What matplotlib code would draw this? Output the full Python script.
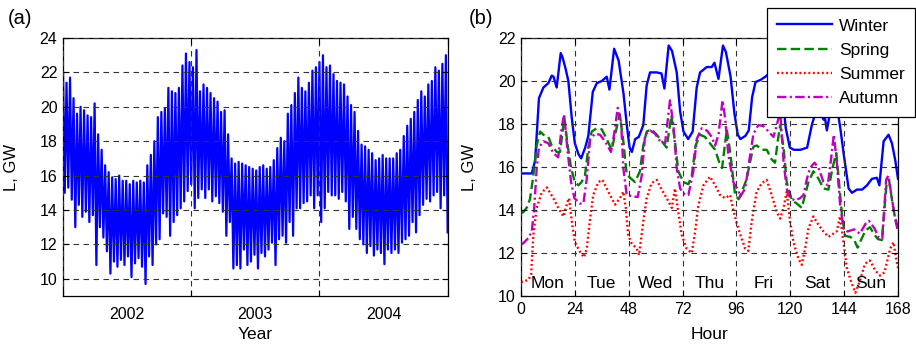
import numpy as np
import matplotlib.pyplot as plt

plt.rcParams['font.family'] = ['Liberation Sans', 'DejaVu Sans']

# (a) hourly load 2002-2004, read as one high/low pair every 10 days from 1 Jan 2002
STEP_DAYS = 10
LOAD_HIGH = [22.0, 21.4, 21.7, 20.5, 19.6, 20.0, 19.8, 19.5, 19.4, 20.2,
             18.4, 17.5, 16.6, 16.2, 15.9, 15.8, 16.0, 15.7, 15.7, 15.5,
             15.7, 15.6, 15.7, 15.6, 16.6, 17.2, 18.0, 19.4, 19.7, 19.9,
             21.1, 20.9, 20.8, 21.1, 22.4, 23.1, 22.6, 22.3, 23.3, 20.9,
             21.3, 21.1, 20.8, 20.5, 20.3, 19.7, 19.8, 18.4, 17.0, 16.7,
             16.8, 16.7, 16.6, 16.5, 16.4, 16.3, 16.5, 16.6, 16.4, 16.5,
             16.9, 17.6, 18.2, 18.0, 19.6, 20.1, 20.8, 21.7, 21.1, 20.9,
             21.4, 22.1, 22.3, 22.6, 23.0, 22.3, 22.4, 21.9, 21.5, 21.4,
             21.3, 20.6, 20.1, 19.7, 18.6, 17.8, 17.7, 17.5, 17.3, 16.9,
             17.0, 17.2, 17.0, 17.0, 17.0, 17.3, 17.5, 18.3, 18.9, 19.3,
             19.7, 20.4, 20.9, 20.6, 21.3, 21.5, 22.3, 22.1, 22.5, 23.0]
LOAD_LOW = [15.0, 15.3, 14.6, 13.0, 14.3, 13.6, 13.9, 13.3, 13.7, 10.8,
            13.0, 12.4, 11.6, 10.3, 11.0, 10.7, 11.1, 10.8, 11.3, 10.1,
            10.9, 11.2, 10.7, 9.7, 11.3, 10.8, 12.0, 12.3, 13.8, 13.6,
            12.5, 13.3, 13.7, 14.1, 14.5, 15.1, 15.5, 14.1, 14.7, 15.2,
            14.7, 15.2, 14.5, 14.8, 14.4, 13.9, 12.5, 13.3, 10.6, 10.8,
            10.6, 11.7, 10.8, 11.0, 11.4, 10.6, 11.5, 11.3, 11.7, 12.1,
            10.8, 12.3, 12.5, 12.1, 13.3, 12.5, 14.1, 14.1, 14.4, 14.5,
            14.85, 14.1, 14.85, 13.3, 14.1, 15.05, 14.85, 14.85, 14.65, 15.05,
            14.5, 12.9, 13.6, 12.9, 12.3, 12.0, 11.5, 11.9, 11.35, 11.7,
            11.5, 10.85, 11.7, 11.5, 11.7, 11.5, 12.1, 12.3, 12.5, 13.3,
            12.7, 13.7, 14.3, 14.65, 14.5, 14.85, 15.05, 14.1, 14.85, 12.7]
YEARS = ['2002', '2003', '2004']
YEAR_START_DAYS = [0, 365, 730, 1096]

# (b) typical week per season, (hour, GW)
WINTER = [(0, 15.7), (4.8, 15.7), (6.3, 16.3), (8, 19.2), (10, 19.7), (12.2, 19.9),
          (13.7, 20.25), (14.5, 20.2), (15.9, 19.7), (17.7, 21.3), (18.5, 21.1),
          (19.8, 20.6), (21.1, 20.0), (22.6, 18.3), (24, 17.1), (25.6, 16.6),
          (26.8, 16.4), (28.6, 16.9), (30, 17.45), (32, 19.5), (33.8, 19.9),
          (36, 20.0), (38.2, 20.2), (39.4, 19.6), (41.5, 21.5), (43.5, 20.95),
          (45.7, 19.4), (47.2, 17.9), (48.4, 16.9), (49.4, 16.7), (50.9, 17.3),
          (52.5, 17.4), (54.5, 17.95), (56, 19.8), (57.5, 20.4), (60.5, 20.4),
          (62.6, 20.35), (63.9, 19.65), (65.8, 21.65), (67.3, 21.4), (69.4, 20.4),
          (70.9, 18.6), (72.4, 17.65), (74.5, 17.3), (76.5, 17.65), (78.3, 19.7),
          (79.8, 20.4), (82.8, 20.65), (85, 20.65), (86.2, 20.85), (86.8, 20.6),
          (88, 20.1), (90, 21.65), (91.3, 21.35), (93.4, 20.2), (95.1, 18.5),
          (96.6, 17.5), (97.8, 17.3), (100, 17.45), (101.5, 17.7), (103, 19.25),
          (104.5, 19.95), (106.7, 20.05), (108.9, 20.2), (110.5, 20.35),
          (112.5, 20.6), (114, 21.0), (115.3, 20.6), (116.5, 19.3), (118, 17.8),
          (119.8, 16.9), (121.6, 16.8), (124.5, 16.8), (127.5, 16.9), (129.7, 18.0),
          (131.5, 18.6), (133.5, 18.5), (134.8, 18.2), (135.3, 18.4), (136.3, 17.7),
          (137.5, 18.4), (139, 19.4), (140.5, 19.0), (142.3, 17.8), (144, 16.45),
          (146, 15.0), (147.5, 14.8), (149.7, 14.95), (152, 14.95), (154.2, 15.15),
          (156.4, 15.45), (158.6, 15.5), (159.7, 15.15), (161.6, 17.2),
          (163.8, 17.5), (165.3, 17.1), (166.8, 16.3), (168, 15.45)]
SPRING = [(0, 13.85), (1, 13.9), (2.5, 14.1), (4, 14.5), (5.5, 15.6), (7, 17.0),
          (8.5, 17.65), (10, 17.5), (12.2, 17.4), (13.7, 17.0), (15.9, 16.7),
          (17.4, 16.7), (19.3, 18.3), (20.8, 17.0), (22.3, 15.95), (24, 15.3),
          (25.6, 15.15), (27, 15.3), (28.5, 15.6), (30, 16.9), (31.5, 17.65),
          (33.7, 17.8), (36, 17.75), (38.2, 17.3), (40.4, 16.8), (41.9, 17.5),
          (44, 18.45), (45.6, 17.2), (47.1, 15.65), (48.6, 15.5), (50.8, 15.3),
          (53, 15.8), (54.5, 17.0), (56, 17.65), (58.2, 17.75), (60.5, 17.5),
          (62.7, 17.2), (64.9, 16.9), (67, 18.4), (68.6, 17.2), (70.1, 15.8),
          (72.4, 15.3), (74.6, 15.2), (76.1, 15.6), (77.8, 17.0), (79.8, 17.5),
          (82, 17.4), (84.2, 17.1), (86.5, 16.8), (88.7, 16.1), (89.6, 15.95),
          (91.7, 17.75), (93.2, 16.7), (95.4, 14.7), (97, 14.5), (98.4, 14.85),
          (100.6, 15.45), (102.1, 16.25), (103.6, 16.95), (105.1, 17.0),
          (107.3, 16.8), (109.5, 16.8), (111.7, 16.35), (113.2, 16.2),
          (114.4, 17.2), (115.5, 17.95), (117, 16.9), (118.4, 15.3), (120.7, 14.45),
          (122.9, 14.3), (125.1, 14.1), (126.6, 14.7), (128.1, 15.3), (130.3, 15.8),
          (132.6, 15.45), (134.8, 15.0), (137, 14.95), (138.8, 15.95),
          (140.5, 16.65), (141.8, 15.2), (143, 13.8), (144.4, 12.8), (146.7, 12.75),
          (148.5, 12.6), (150, 12.25), (151.5, 12.6), (153.5, 13.05), (155.5, 13.2),
          (157.5, 12.85), (159, 12.65), (160.8, 12.6), (162.8, 15.1), (164, 15.4),
          (166, 14.0), (168, 13.1)]
SUMMER = [(0, 10.65), (1, 10.67), (3.3, 10.75), (4.5, 11.0), (5.5, 12.85), (7, 14.1),
          (9.2, 14.8), (11.5, 15.05), (14.4, 14.55), (16.6, 14.1), (18.9, 13.7),
          (20.8, 14.4), (21.4, 14.55), (22.6, 13.5), (24, 12.5), (26.3, 12.05),
          (28.1, 11.8), (29.3, 12.2), (30.8, 13.6), (32.2, 14.7), (34.5, 15.3),
          (36.3, 15.4), (38.2, 15.0), (40.4, 14.55), (41.9, 14.25), (44.1, 14.55),
          (45.6, 14.85), (46.7, 14.1), (47.8, 12.8), (49.3, 12.45), (51.6, 12.2),
          (52.6, 11.9), (54.5, 13.45), (56, 14.55), (58.2, 15.25), (60.5, 15.4),
          (62.7, 14.95), (64.9, 14.55), (67.2, 14.1), (68.6, 15.0), (70.1, 13.9),
          (71.6, 12.85), (73.8, 12.2), (76.1, 12.0), (77.6, 13.0), (79, 14.2),
          (81.3, 15.15), (84.2, 15.55), (86.5, 15.15), (88.7, 14.7), (90.9, 14.55),
          (93.2, 14.7), (94.6, 14.0), (96.1, 13.4), (97.6, 12.9), (99.9, 12.2),
          (101.3, 12.1), (102.8, 13.45), (105, 14.85), (107.3, 15.25),
          (109.5, 15.4), (111.7, 14.7), (114, 13.9), (115.5, 13.6), (117, 14.1),
          (118.4, 14.85), (119.9, 13.45), (121.4, 12.5), (123.6, 11.75),
          (125.1, 11.45), (126.6, 12.2), (128.1, 13.15), (130.3, 13.7),
          (132.6, 13.3), (134.8, 13.0), (137, 12.75), (138.5, 12.85), (140.7, 13.0),
          (142.2, 13.7), (143.7, 12.5), (145.2, 11.3), (147, 10.7), (149, 10.15),
          (151, 10.7), (153.3, 11.5), (155.5, 11.65), (157.8, 11.2), (160, 10.95),
          (162, 11.1), (164.5, 12.2), (166, 12.5), (167.4, 11.6), (168, 11.3)]
AUTUMN = [(0, 12.4), (1, 12.45), (3.3, 12.7), (4.8, 13.0), (5.9, 14.1), (7, 15.95),
          (8, 16.9), (10, 17.2), (12.2, 17.1), (14.4, 16.65), (16.6, 16.45),
          (18.1, 17.8), (19.2, 18.45), (20.8, 16.7), (22.3, 15.3), (23.8, 14.55),
          (26.3, 14.3), (27.8, 14.3), (29.3, 15.45), (30.8, 17.3), (33, 17.55),
          (35.2, 17.5), (37.4, 17.2), (40.1, 16.7), (41.6, 17.6), (43.1, 18.75),
          (44.6, 18.1), (45.6, 15.95), (47.1, 14.7), (49.3, 14.65), (52, 14.6),
          (53.8, 15.6), (55.3, 17.5), (57.5, 17.7), (59.7, 17.55), (62, 17.2),
          (64.2, 17.1), (66.4, 19.1), (67.9, 17.95), (69.4, 15.95), (70.9, 15.0),
          (73.1, 14.7), (74.6, 14.7), (76.8, 15.8), (78.3, 17.3), (80.5, 17.8),
          (82.8, 17.7), (85, 17.4), (86.5, 17.0), (88, 17.5), (89.8, 19.1),
          (91, 18.25), (92.4, 16.55), (94.6, 15.3), (96.9, 14.9), (97.6, 14.6),
          (99.9, 15.0), (102.1, 16.55), (103.6, 17.55), (105.8, 17.95), (108, 17.9),
          (110.3, 17.65), (112.5, 17.4), (114, 17.95), (115.5, 18.6), (117, 16.25),
          (118.4, 15.0), (119.9, 14.55), (122.1, 14.45), (124.4, 14.55),
          (125.9, 14.7), (127.4, 15.45), (128.8, 15.95), (130.8, 16.2),
          (132.6, 15.95), (134.8, 15.3), (136.7, 15.15), (138.2, 16.4),
          (139.4, 17.5), (140.7, 16.25), (142.2, 14.25), (143.7, 13.15),
          (145.5, 13.0), (148.5, 13.1), (151, 12.9), (153.5, 13.35), (155, 13.5),
          (157.5, 13.15), (159.5, 12.7), (161, 12.65), (162.7, 15.4), (163.7, 15.6),
          (165.2, 14.6), (166.7, 13.6), (168, 13.0)]
DAYS = ['Mon', 'Tue', 'Wed', 'Thu', 'Fri', 'Sat', 'Sun']

W, H = 916, 345
fig = plt.figure(figsize=(W / 100, H / 100), dpi=100)
ax1 = fig.add_axes([63 / W, 1 - 296 / H, 385 / W, 258 / H])
ax2 = fig.add_axes([521 / W, 1 - 296 / H, 377 / W, 258 / H])

grid_kw = dict(color='0.2', linestyle=(0, (5, 4)), linewidth=0.8)


def style_axes(ax):
    ax.set_axisbelow(False)
    ax.grid(True, **grid_kw)
    ax.tick_params(direction='in', length=4, width=0.8, top=True, right=True,
                   labelsize=11.5, pad=4)
    for s in ax.spines.values():
        s.set_linewidth(0.9)


# ---- (a) ----
days = np.arange(len(LOAD_HIGH)) * STEP_DAYS
x = np.column_stack([days, days + STEP_DAYS / 2]).ravel()
y = np.column_stack([LOAD_HIGH, LOAD_LOW]).ravel()
ax1.plot(x, y, color='#0000FF', linewidth=1.6)
ax1.set_xlim(YEAR_START_DAYS[0], YEAR_START_DAYS[-1])
ax1.set_ylim(9, 24)
ax1.set_yticks(range(10, 25, 2))
ax1.set_xticks(YEAR_START_DAYS)
ax1.set_xticklabels([])
mids = [(a + b) / 2 for a, b in zip(YEAR_START_DAYS[:-1], YEAR_START_DAYS[1:])]
ax1.set_xticks(mids, minor=True)
ax1.set_xticklabels(YEARS, minor=True)
style_axes(ax1)
ax1.tick_params(axis='x', which='minor', length=0, labelsize=11.5, pad=8)
ax1.set_xlabel('Year', fontsize=12.5)
ax1.set_ylabel('L, GW', fontsize=12)
ax1.yaxis.set_label_coords(-0.115, 0.5)
ax1.xaxis.set_label_coords(0.5, -0.12)
ax1.xaxis.label.set_va('top')

# ---- (b) ----
series = [
    ('Winter', WINTER, '#0000FF', '-'),
    ('Spring', SPRING, '#008000', (0, (4, 1.8))),
    ('Summer', SUMMER, '#FF0000', (0, (0.8, 1.1))),
    ('Autumn', AUTUMN, '#BF00BF', (0, (4, 1.4, 0.9, 1.4))),
]
handles = []
for name, pts, col, ls in series:
    hrs, val = zip(*pts)
    ln, = ax2.plot(hrs, val, color=col, linestyle=ls, linewidth=1.7, label=name)
    handles.append(ln)
for i, d in enumerate(DAYS):
    ax2.text(12 + 24 * i, 10.6, d, ha='center', va='center', fontsize=12.5)
ax2.set_xlim(0, 168)
ax2.set_ylim(10, 22)
ax2.set_xticks(range(0, 169, 24))
ax2.set_yticks(range(10, 23, 2))
style_axes(ax2)
ax2.set_xlabel('Hour', fontsize=12.5)
ax2.set_ylabel('L, GW', fontsize=12)
ax2.yaxis.set_label_coords(-0.118, 0.5)
ax2.xaxis.set_label_coords(0.5, -0.12)
ax2.xaxis.label.set_va('top')

leg = ax2.legend(handles=handles, loc='upper right',
                 bbox_to_anchor=(915 / W, 1 - 8 / H), bbox_transform=fig.transFigure,
                 fontsize=12.5, handlelength=3.15, handletextpad=0.4,
                 labelspacing=0.52, borderpad=0.6, borderaxespad=0,
                 fancybox=False, framealpha=1, edgecolor='k')
leg.get_frame().set_linewidth(0.9)

fig.text(20 / W, 1 - 19 / H, '(a)', ha='center', va='center', fontsize=14.5)
fig.text(481 / W, 1 - 19 / H, '(b)', ha='center', va='center', fontsize=14.5)

fig.savefig('out.png', dpi=100)
